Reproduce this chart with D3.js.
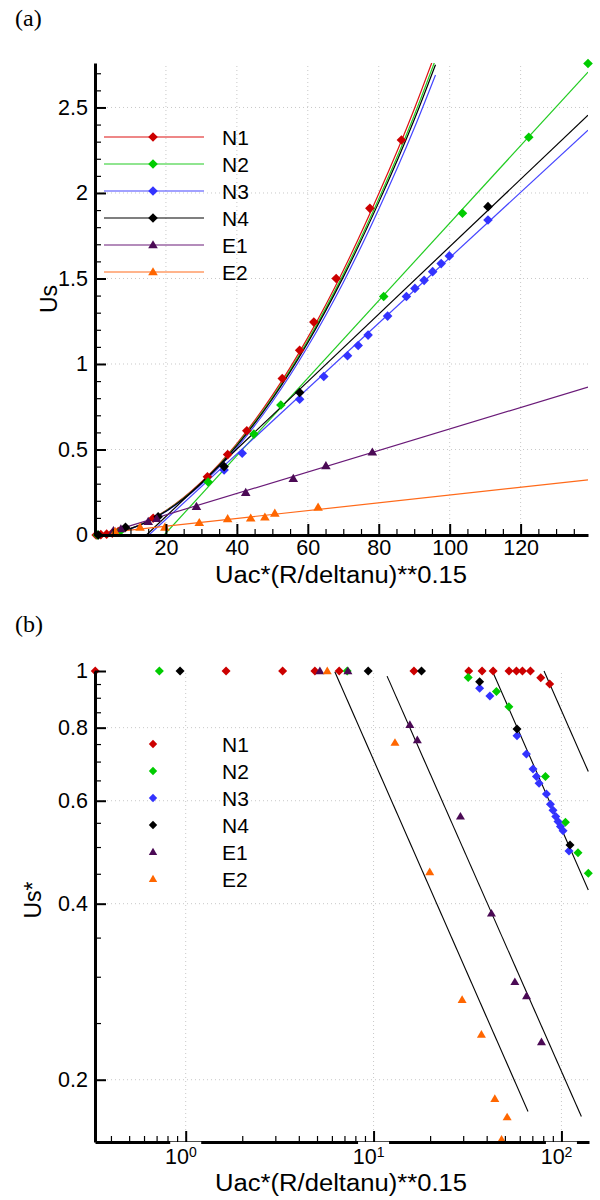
<!DOCTYPE html>
<html>
<head>
<meta charset="utf-8">
<script src="https://cdn.jsdelivr.net/npm/d3@7"></script>
<style>
body { margin: 0; background: #fff; }
text { font-family: "Liberation Sans", Arial, sans-serif; }
</style>
</head>
<body>
<svg id="fig" width="600" height="1200"></svg>
<script>
// series
const names = ["N1", "N2", "N3", "N4", "E1", "E2"];
const markColors = ["#cc0000", "#00cc00", "#3333ff", "#000000", "#4b0a55", "#ff6600"];
const lineColors = ["#dd1111", "#22cc22", "#4444ff", "#000000", "#6a1a78", "#ff6a1a"];
const shapes = ["diamond", "diamond", "diamond", "diamond", "triangle", "triangle"];

// panel (a): Us vs Uac*(R/deltanu)**0.15
const aN1x = [0.33, 1.64, 3.28, 4.87, 6.56, 16.4, 31.7, 37.4, 42.8, 52.8, 57.7, 61.7, 68.0, 77.5, 86.4];
const aN1y = [0, 0.002, 0.005, 0.011, 0.02, 0.098, 0.34, 0.47, 0.61, 0.915, 1.08, 1.245, 1.5, 1.91, 2.31];
const aN2x = [0.72, 7.24, 31.9, 44.8, 52.4, 81.4, 103.6, 122.3, 139];
const aN2y = [0, 0.025, 0.31, 0.59, 0.76, 1.395, 1.881, 2.326, 2.757];
const aN3x = [36.4, 41.5, 57.7, 64.5, 71.2, 74.2, 77.0, 82.5, 87.8, 90.2, 92.8, 95.2, 97.6, 99.9, 110.8];
const aN3y = [0.38, 0.478, 0.794, 0.927, 1.048, 1.108, 1.169, 1.28, 1.395, 1.442, 1.489, 1.54, 1.587, 1.632, 1.842];
const aN4x = [0.93, 8.6, 17.8, 36.4, 57.7, 110.8];
const aN4y = [0, 0.045, 0.107, 0.40, 0.833, 1.92];
const aE1x = [5.2, 7.3, 15.0, 17.4, 28.6, 42.5, 55.9, 65.1, 78.2];
const aE1y = [0.025, 0.035, 0.078, 0.095, 0.166, 0.248, 0.33, 0.404, 0.484];
const aE2x = [5.67, 12.7, 19.7, 29.4, 37.4, 43.9, 47.9, 50.7, 62.9];
const aE2y = [0.02, 0.045, 0.045, 0.072, 0.094, 0.098, 0.104, 0.127, 0.162];

// fitted curves in (a)
const curveX = [0, 10, 20, 30, 40, 50, 60, 70, 80, 90, 96];
const curveN1 = [0, 0.038, 0.143, 0.31, 0.535, 0.816, 1.154, 1.547, 1.995, 2.49, 2.82];
const curveN2 = [0, 0.037, 0.141, 0.305, 0.527, 0.804, 1.137, 1.524, 1.965, 2.453, 2.78];
const curveN3 = [0, 0.036, 0.137, 0.296, 0.511, 0.779, 1.102, 1.477, 1.905, 2.378, 2.69];
const curveN4 = [0, 0.037, 0.139, 0.302, 0.522, 0.796, 1.125, 1.508, 1.945, 2.428, 2.75];

// straight fits in (a): start and end points
const fitN2 = [[19.5, 0], [139, 2.707]];
const fitN3 = [[15.2, 0], [139, 2.367]];
const fitN4 = [[14.5, 0], [139, 2.455]];
const fitE1 = [[6.1, 0.03], [139, 0.865]];
const fitE2 = [[6.0, 0.02], [139, 0.322]];

// panel (b): Us* vs Uac*(R/deltanu)**0.15, log-log
const bN1x = [0.33, 1.64, 3.28, 4.87, 6.56, 16.4, 32.1, 37.8, 43.3, 52.6, 57.6, 62.0, 68.4, 77.6, 86.6];
const bN1y = [1, 1, 1, 1, 1, 1, 1, 1, 1, 1, 1, 1, 1, 0.974, 0.95];
const bN2x = [0.724, 7.24, 31.9, 45.1, 52.5, 82.2, 105, 122.5, 139];
const bN2y = [1, 1, 0.975, 0.922, 0.869, 0.66, 0.551, 0.489, 0.451];
const bN3x = [36.7, 41.6, 58.0, 65.1, 70.6, 73.6, 76.0, 83.2, 87.4, 90.2, 93.3, 95.9, 98.8, 102, 109.7];
const bN3y = [0.934, 0.906, 0.775, 0.721, 0.68, 0.66, 0.643, 0.616, 0.592, 0.578, 0.564, 0.553, 0.542, 0.533, 0.492];
const bN4x = [0.933, 9.36, 18.0, 36.7, 58.0, 111.1];
const bN4y = [1, 1, 1, 0.959, 0.796, 0.504];
const bE1x = [5.18, 7.3, 15.6, 17.1, 29.0, 42.4, 56.5, 65.2, 78.3];
const bE1y = [1, 1, 0.809, 0.762, 0.564, 0.385, 0.294, 0.278, 0.232];
const bE2x = [5.67, 13.0, 19.9, 29.6, 37.5, 44.2, 48.0, 51.4];
const bE2y = [1, 0.754, 0.453, 0.274, 0.239, 0.1855, 0.158, 0.1726];

// power-law guide lines in (b)
const bFits = [
    [[6.22, 0.997], [66.4, 0.1765]],
    [[11.8, 0.98], [127.7, 0.173]],
    [[42.9, 1.0], [139, 0.422]],
    [[80.8, 1.0], [139, 0.673]]
];

const aXTicks = [20, 40, 60, 80, 100, 120];
const aYTicks = [0, 0.5, 1, 1.5, 2, 2.5];
const bXTicks = [1, 10, 100];
const bYTicks = [0.2, 0.4, 0.6, 0.8, 1];

const xTitle = "Uac*(R/deltanu)**0.15";

let svg = d3.select("#fig");

let aX = d3.scaleLinear().domain([0, 139]).range([95, 588]);
let aY = d3.scaleLinear().domain([0, 2.76]).range([535, 63]);
let bX = d3.scaleLog().domain([0.329, 140.2]).range([95, 589]);
let bY = d3.scaleLog().domain([0.1565, 1]).range([1142, 671]);

function marker(shape, r) {
    if (shape == "triangle") {
        return `M0,${-r} L${r},${r * 0.7} L${-r},${r * 0.7} Z`;
    }
    return `M0,${-r} L${r},0 L0,${r} L${-r},0 Z`;
}

function zip(xs, ys) {
    return xs.map(function (x, i) { return [x, ys[i]]; });
}

function styleAxis(g) {
    g.attr("font-size", 21.5).attr("font-family", "Liberation Sans, Arial, sans-serif");
    g.select(".domain").attr("stroke-width", 3);
    g.selectAll(".tick line").attr("stroke-width", 2);
}

function grid(g, xs, ys, x, y) {
    g.selectAll(".gx").data(xs).enter().append("line")
        .attr("x1", function (d) { return x(d); }).attr("x2", function (d) { return x(d); })
        .attr("y1", y.range()[0]).attr("y2", y.range()[1]);
    g.selectAll(".gy").data(ys).enter().append("line")
        .attr("y1", function (d) { return y(d); }).attr("y2", function (d) { return y(d); })
        .attr("x1", x.range()[0]).attr("x2", x.range()[1]);
    g.selectAll("line").attr("stroke", "#c8c8c8").attr("stroke-width", 1).attr("stroke-dasharray", "1,3");
}

// ---------- panel (a) ----------
svg.append("text").attr("x", 15).attr("y", 26).attr("font-size", 24)
    .style("font-family", "Liberation Serif, Times New Roman, serif").text("(a)");

svg.append("clipPath").attr("id", "clipA").append("rect")
    .attr("x", 95).attr("y", 63).attr("width", 493).attr("height", 472);

grid(svg.append("g"), aXTicks, aYTicks.slice(1), aX, aY);

let aLine = d3.line()
    .x(function (d) { return aX(d[0]); })
    .y(function (d) { return aY(d[1]); });
let aCurve = d3.line().curve(d3.curveMonotoneX)
    .x(function (d) { return aX(d[0]); })
    .y(function (d) { return aY(d[1]); });

let aLines = svg.append("g").attr("clip-path", "url(#clipA)").attr("fill", "none").attr("stroke-width", 1.2);
[curveN1, curveN2, curveN3, curveN4].forEach(function (c, i) {
    aLines.append("path").attr("d", aCurve(zip(curveX, c))).attr("stroke", lineColors[i]);
});
[[fitN2, 1], [fitN3, 2], [fitN4, 3], [fitE1, 4], [fitE2, 5]].forEach(function (f) {
    aLines.append("path").attr("d", aLine(f[0])).attr("stroke", lineColors[f[1]]);
});

let aData = [zip(aN1x, aN1y), zip(aN2x, aN2y), zip(aN3x, aN3y), zip(aN4x, aN4y), zip(aE1x, aE1y), zip(aE2x, aE2y)];
aData.forEach(function (pts, i) {
    svg.append("g").selectAll("path").data(pts).enter().append("path")
        .attr("d", marker(shapes[i], 4.8))
        .attr("transform", function (d) { return `translate(${aX(d[0])},${aY(d[1])})`; })
        .attr("fill", markColors[i]);
});

let axA = svg.append("g").attr("transform", "translate(0,535)")
    .call(d3.axisBottom(aX).tickValues(aXTicks).tickSizeInner(-11).tickSizeOuter(0).tickPadding(5));
styleAxis(axA);
svg.append("g").attr("transform", "translate(0,535)")
    .call(d3.axisBottom(aX).tickValues(d3.range(5, 139, 5).filter(function (v) { return v % 20 != 0; }))
        .tickSizeInner(-6).tickSizeOuter(0).tickFormat(""))
    .call(function (g) { g.select(".domain").remove(); g.selectAll("line").attr("stroke-width", 1.2); });

let ayA = svg.append("g").attr("transform", "translate(95,0)")
    .call(d3.axisLeft(aY).tickValues(aYTicks).tickSizeInner(-11).tickSizeOuter(0).tickPadding(7)
        .tickFormat(function (d) { return d3.format("")(d); }));
styleAxis(ayA);
svg.append("g").attr("transform", "translate(95,0)")
    .call(d3.axisLeft(aY).tickValues(d3.range(1, 28).map(function (v) { return v / 10; }).filter(function (v) { return v % 0.5 > 0.01 && v % 0.5 < 0.49; }))
        .tickSizeInner(-6).tickSizeOuter(0).tickFormat(""))
    .call(function (g) { g.select(".domain").remove(); g.selectAll("line").attr("stroke-width", 1.2); });

svg.append("text").attr("x", 341).attr("y", 583).attr("text-anchor", "middle")
    .attr("font-size", 23).attr("textLength", 252).attr("lengthAdjust", "spacingAndGlyphs").text(xTitle);
svg.append("text").attr("transform", "translate(57,299) rotate(-90)").attr("text-anchor", "middle")
    .attr("font-size", 23).text("Us");

// legend (a)
let legA = svg.append("g");
names.forEach(function (n, i) {
    let yy = 137 + i * 27;
    legA.append("line").attr("x1", 104).attr("x2", 204).attr("y1", yy).attr("y2", yy)
        .attr("stroke", lineColors[i]).attr("stroke-width", 1.2);
    legA.append("path").attr("d", marker(shapes[i], 4.8)).attr("transform", `translate(153,${yy})`)
        .attr("fill", markColors[i]);
    legA.append("text").attr("x", 222).attr("y", yy + 7.5).attr("font-size", 21).text(n);
});

// ---------- panel (b) ----------
svg.append("text").attr("x", 15).attr("y", 632).attr("font-size", 24)
    .style("font-family", "Liberation Serif, Times New Roman, serif").text("(b)");

grid(svg.append("g"), bXTicks, bYTicks.slice(0, 4), bX, bY);

let bLine = d3.line()
    .x(function (d) { return bX(d[0]); })
    .y(function (d) { return bY(d[1]); });
svg.append("g").selectAll("path").data(bFits).enter().append("path")
    .attr("d", function (d) { return bLine(d); })
    .attr("fill", "none").attr("stroke", "#000").attr("stroke-width", 1.1);

let bData = [zip(bN1x, bN1y), zip(bN2x, bN2y), zip(bN3x, bN3y), zip(bN4x, bN4y), zip(bE1x, bE1y), zip(bE2x, bE2y)];
bData.forEach(function (pts, i) {
    svg.append("g").selectAll("path").data(pts).enter().append("path")
        .attr("d", marker(shapes[i], 4.5))
        .attr("transform", function (d) { return `translate(${bX(d[0])},${bY(d[1])})`; })
        .attr("fill", markColors[i]);
});

let bMinorX = [];
[0.1, 1, 10].forEach(function (dec) {
    d3.range(2, 10).forEach(function (k) {
        let v = dec * k;
        if (v > 0.33 && v < 140) bMinorX.push(v);
    });
});
let bMinorY = [0.25, 0.3, 0.35, 0.45, 0.5, 0.55, 0.65, 0.7, 0.75, 0.85, 0.9, 0.95];

let axB = svg.append("g").attr("transform", "translate(0,1142)")
    .call(d3.axisBottom(bX).tickValues(bXTicks).tickSizeInner(-11).tickSizeOuter(0).tickPadding(7));
styleAxis(axB);
axB.selectAll(".tick").insert("rect", "line")
    .attr("x", -16).attr("y", -0.3).attr("width", 31).attr("height", 3).attr("fill", "#fff");
axB.selectAll(".tick text").each(function (d) {
    let t = d3.select(this).text(null).attr("dx", "-0.25em");
    t.append("tspan").text("10");
    t.append("tspan").attr("font-size", 14).attr("dy", "-0.55em").text(Math.round(Math.log10(d)));
});
svg.append("g").attr("transform", "translate(0,1142)")
    .call(d3.axisBottom(bX).tickValues(bMinorX).tickSizeInner(-6).tickSizeOuter(0).tickFormat(""))
    .call(function (g) { g.select(".domain").remove(); g.selectAll("line").attr("stroke-width", 1.2); });

let ayB = svg.append("g").attr("transform", "translate(95,0)")
    .call(d3.axisLeft(bY).tickValues(bYTicks).tickSizeInner(-11).tickSizeOuter(0).tickPadding(7)
        .tickFormat(function (d) { return d3.format("")(d); }));
styleAxis(ayB);
svg.append("g").attr("transform", "translate(95,0)")
    .call(d3.axisLeft(bY).tickValues(bMinorY).tickSizeInner(-6).tickSizeOuter(0).tickFormat(""))
    .call(function (g) { g.select(".domain").remove(); g.selectAll("line").attr("stroke-width", 1.2); });

svg.append("text").attr("x", 341).attr("y", 1191).attr("text-anchor", "middle")
    .attr("font-size", 23).attr("textLength", 252).attr("lengthAdjust", "spacingAndGlyphs").text(xTitle);
svg.append("text").attr("transform", "translate(41,900) rotate(-90)").attr("text-anchor", "middle")
    .attr("font-size", 23).text("Us*");

// legend (b)
let legB = svg.append("g");
names.forEach(function (n, i) {
    let yy = 744 + i * 27;
    legB.append("path").attr("d", marker(shapes[i], 4.2)).attr("transform", `translate(153,${yy})`)
        .attr("fill", markColors[i]);
    legB.append("text").attr("x", 222).attr("y", yy + 7.5).attr("font-size", 21).text(n);
});
</script>
</body>
</html>
